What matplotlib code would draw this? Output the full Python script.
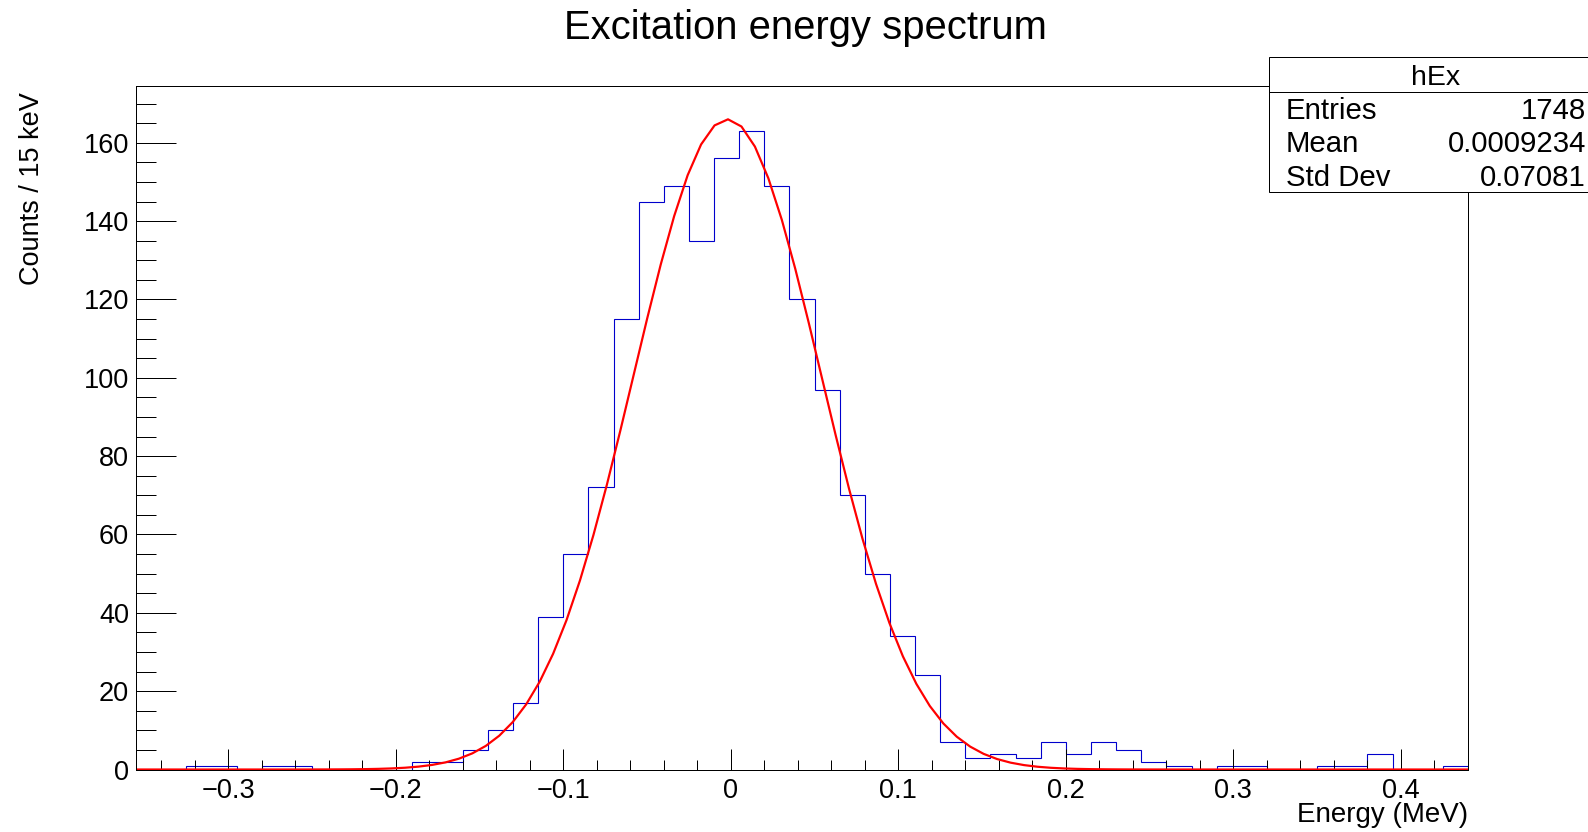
import numpy as np
import matplotlib
matplotlib.use('Agg')
import matplotlib.pyplot as plt
from matplotlib.patches import Rectangle
from matplotlib.lines import Line2D
from matplotlib.ticker import MultipleLocator

plt.rcParams['font.family'] = ['Liberation Sans', 'DejaVu Sans']

# histogram hEx: 53 bins of 15 keV from -0.355 to 0.44 MeV
x_min = -0.355
bin_width = 0.015
counts = [0, 0, 1, 1, 0, 1, 1, 0, 0, 0, 0, 2, 2, 5, 10, 17, 39, 55, 72, 115,
          145, 149, 135, 156, 163, 149, 120, 97, 70, 50, 34, 24, 7, 3, 4, 3,
          7, 4, 7, 5, 2, 1, 0, 1, 1, 0, 0, 1, 1, 4, 0, 0, 1]
edges = x_min + bin_width * np.arange(len(counts) + 1)

# gaussian fit parameters
fit_const = 166.0
fit_mean = -0.002
fit_sigma = 0.056

stats_names = ['Entries', 'Mean', 'Std Dev']
stats_values = ['1748', '0.0009234', '0.07081']

W, H = 1588, 832
PT = 0.72  # points per pixel at dpi 100
fig = plt.figure(figsize=(W / 100, H / 100), dpi=100)
ax = fig.add_axes([136 / W, 1 - 769.5 / H, (1468 - 136) / W, (769.5 - 86) / H])

ax.stairs(counts, edges, color='#0000cc', linewidth=1.1 * PT)

xf = np.linspace(edges[0], edges[-1], 100)
yf = fit_const * np.exp(-0.5 * ((xf - fit_mean) / fit_sigma) ** 2)
ax.plot(xf, yf, color='red', linewidth=2.2 * PT)

ax.set_xlim(edges[0], edges[-1])
ax.set_ylim(0, 174.5)

ax.xaxis.set_major_locator(MultipleLocator(0.1))
ax.xaxis.set_minor_locator(MultipleLocator(0.02))
ax.yaxis.set_major_locator(MultipleLocator(20))
ax.yaxis.set_minor_locator(MultipleLocator(5))
ax.tick_params(which='both', direction='in', top=False, right=False,
               labelsize=19.5, width=1.0 * PT, color='black')
ax.tick_params(axis='x', which='major', length=21 * PT, pad=6)
ax.tick_params(axis='x', which='minor', length=10 * PT)
ax.tick_params(axis='y', which='major', length=40 * PT, pad=5)
ax.tick_params(axis='y', which='minor', length=20 * PT)
ax.xaxis.set_major_formatter(plt.FuncFormatter(
    lambda v, p: '0' if abs(v) < 1e-9 else ('%g' % v).replace('-', '\u2212')))

for s in ax.spines.values():
    s.set_linewidth(1.0 * PT)

fig.text(805 / W, 1 - 28 / H, 'Excitation energy spectrum', fontsize=28.8,
         ha='center', va='center')
fig.text(1468 / W, 1 - 815 / H, 'Energy (MeV)', fontsize=20,
         ha='right', va='center')
fig.text(32 / W, 1 - 92 / H, 'Counts / 15 keV', fontsize=19.5, rotation=90,
         ha='center', va='top')

# stats box
box_l, box_t, box_b = 1269, 57, 192
fig.patches.append(Rectangle((box_l / W, 1 - box_b / H), (W + 10 - box_l) / W,
                             (box_b - box_t) / H, transform=fig.transFigure,
                             facecolor='white', edgecolor='black',
                             linewidth=1.0 * PT, zorder=5))
fig.lines.append(Line2D([box_l / W, 1.01], [1 - 92 / H, 1 - 92 / H],
                        transform=fig.transFigure, color='black',
                        linewidth=1.0 * PT, zorder=6))
fig.text(1436 / W, 1 - 78 / H, 'hEx', fontsize=20.5, ha='center', va='center',
         zorder=7)
row_y = [111, 144, 178]
for name, val, yy in zip(stats_names, stats_values, row_y):
    fig.text(1286 / W, 1 - yy / H, name, fontsize=21.2, ha='left',
             va='center', zorder=7)
    fig.text(1586 / W, 1 - yy / H, val, fontsize=21.2, ha='right',
             va='center', zorder=7)

fig.savefig('out.png', dpi=100)
